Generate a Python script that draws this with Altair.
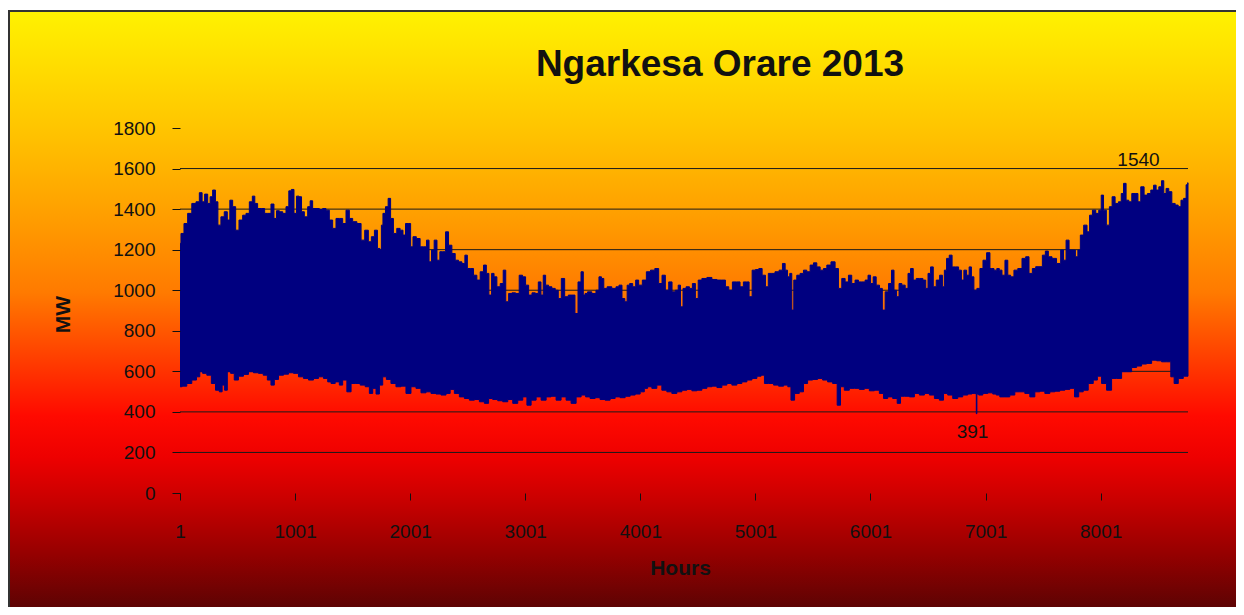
import altair as alt
import pandas as pd

# ---- data (hour of year, MW) ----
upper_hours = [1, 18, 53, 82, 125, 155, 183, 203, 227, 256, 270, 299, 319, 342, 371, 400, 424, 444, 473, 496,
               531, 560, 589, 618, 641, 661, 690, 725, 748, 777, 806, 829, 850, 879, 908, 936, 957, 980, 1003, 1023,
               1047, 1067, 1096, 1125, 1139, 1168, 1197, 1226, 1255, 1284, 1313, 1342, 1371, 1400, 1429, 1458, 1487,
               1516, 1560, 1589, 1623, 1652, 1676, 1705, 1728, 1748, 1754, 1775, 1798, 1821, 1841, 1870, 1899, 1928,
               1949, 1972, 1995, 2015, 2036, 2073, 2102, 2131, 2155, 2175, 2198, 2221, 2247, 2271, 2297, 2320, 2349,
               2378, 2407, 2436, 2465, 2488, 2508, 2537, 2566, 2595, 2624, 2653, 2673, 2697, 2720, 2740, 2769, 2798,
               2821, 2842, 2871, 2900, 2934, 2963, 2992, 3016, 3045, 3074, 3103, 3126, 3149, 3166, 3190, 3218, 3247,
               3276, 3300, 3329, 3358, 3392, 3421, 3445, 3474, 3497, 3514, 3528, 3557, 3601, 3630, 3653, 3673, 3694,
               3731, 3775, 3804, 3827, 3856, 3876, 3897, 3920, 3949, 3972, 4001, 4036, 4071, 4108, 4146, 4175, 4204,
               4233, 4262, 4291, 4320, 4340, 4360, 4384, 4413, 4442, 4465, 4494, 4514, 4558, 4601, 4645, 4688, 4726,
               4755, 4784, 4818, 4853, 4882, 4911, 4934, 4958, 4987, 5016, 5045, 5074, 5103, 5123, 5152, 5190, 5224,
               5248, 5271, 5288, 5311, 5323, 5346, 5375, 5404, 5433, 5462, 5491, 5520, 5549, 5578, 5607, 5636, 5679,
               5708, 5737, 5766, 5795, 5824, 5852, 5882, 5911, 5940, 5969, 5990, 6013, 6036, 6065, 6094, 6114, 6143,
               6172, 6195, 6216, 6239, 6259, 6288, 6317, 6337, 6361, 6384, 6413, 6442, 6471, 6491, 6511, 6535, 6558,
               6587, 6616, 6636, 6650, 6674, 6697, 6723, 6752, 6781, 6801, 6824, 6848, 6868, 6888, 6911, 6940, 6964,
               6993, 7027, 7051, 7060, 7088, 7109, 7132, 7155, 7184, 7204, 7233, 7262, 7300, 7335, 7364, 7393, 7422,
               7451, 7480, 7509, 7532, 7561, 7596, 7639, 7668, 7689, 7712, 7741, 7770, 7793, 7813, 7836, 7871, 7894,
               7915, 7944, 7973, 7996, 8016, 8036, 8065, 8089, 8112, 8141, 8170, 8190, 8210, 8234, 8257, 8286, 8315,
               8335, 8364, 8393, 8422, 8451, 8471, 8495, 8518, 8541, 8558, 8581, 8605, 8634, 8663, 8686, 8712, 8732,
               8755, 8760]
upper_mw = [1231, 1280, 1329, 1379, 1428, 1436, 1481, 1436, 1474, 1428, 1461, 1494, 1436, 1321, 1362, 1387, 1346, 1444,
            1412, 1296, 1346, 1370, 1379, 1436, 1464, 1428, 1403, 1403, 1379, 1379, 1425, 1354, 1392, 1387, 1379, 1412,
            1490, 1497, 1379, 1464, 1461, 1387, 1362, 1412, 1441, 1403, 1403, 1398, 1403, 1395, 1346, 1305, 1354, 1354,
            1329, 1395, 1354, 1338, 1329, 1247, 1296, 1239, 1264, 1296, 1206, 1198, 1321, 1379, 1412, 1453, 1354, 1280,
            1305, 1296, 1272, 1329, 1329, 1214, 1264, 1255, 1214, 1214, 1247, 1140, 1198, 1247, 1148, 1190, 1190, 1288,
            1222, 1181, 1148, 1140, 1132, 1173, 1107, 1107, 1074, 1050, 1091, 1124, 1083, 976, 1083, 1066, 1017, 1033,
            1099, 943, 984, 987, 984, 1074, 1066, 1025, 976, 987, 984, 1041, 976, 1074, 1025, 1017, 1009, 1000, 959,
            1058, 968, 976, 976, 885, 1041, 1091, 976, 984, 992, 984, 1000, 1066, 1058, 1009, 1017, 1009, 1017, 1025,
            959, 943, 1025, 1033, 1017, 1050, 1025, 1050, 1091, 1099, 1107, 1033, 1074, 1000, 1041, 992, 1000, 1025,
            918, 1009, 1017, 1009, 1033, 959, 1050, 1058, 1063, 1053, 1050, 1050, 1017, 1000, 1041, 1041, 1017, 1041,
            1041, 968, 1099, 1102, 1107, 1074, 1017, 1083, 1083, 1091, 1099, 1132, 1099, 1066, 1083, 902, 1050, 1074,
            1083, 1099, 1091, 1124, 1135, 1115, 1099, 1107, 1124, 1140, 1107, 1009, 1058, 1041, 1074, 1033, 1050, 1041,
            1041, 1050, 1074, 1033, 1066, 1025, 1009, 902, 992, 1033, 1099, 1000, 968, 1033, 1025, 1009, 1083, 1107,
            1050, 1058, 1058, 1050, 1009, 1083, 1115, 1017, 1050, 1074, 1017, 1099, 1157, 1173, 1115, 1115, 1099, 1050,
            1099, 1074, 1115, 1066, 1000, 1009, 1107, 1148, 1185, 1107, 1107, 1099, 1107, 1099, 1074, 1148, 1074, 1066,
            1099, 1107, 1157, 1165, 1083, 1107, 1116, 1116, 1173, 1193, 1165, 1157, 1132, 1198, 1148, 1247, 1198, 1198,
            1165, 1198, 1272, 1321, 1288, 1370, 1395, 1379, 1395, 1469, 1395, 1321, 1412, 1461, 1428, 1436, 1477, 1527,
            1444, 1436, 1477, 1477, 1436, 1510, 1469, 1477, 1494, 1518, 1494, 1510, 1540, 1477, 1502, 1486, 1428, 1420,
            1412, 1444, 1453, 1520, 1530]

lower_hours = [1, 38, 82, 125, 163, 183, 212, 256, 291, 328, 357, 377, 400, 424, 458, 487, 531, 574, 618, 661, 705,
               743, 777, 806, 835, 879, 922, 966, 1009, 1052, 1096, 1139, 1183, 1226, 1270, 1299, 1328, 1371, 1400,
               1429, 1473, 1502, 1545, 1589, 1632, 1661, 1690, 1719, 1748, 1777, 1812, 1856, 1899, 1943, 1986, 2030,
               2073, 2117, 2160, 2204, 2247, 2291, 2334, 2363, 2407, 2450, 2494, 2537, 2581, 2624, 2668, 2697, 2740,
               2784, 2827, 2871, 2914, 2958, 3001, 3030, 3074, 3117, 3161, 3204, 3247, 3291, 3334, 3378, 3421, 3465,
               3508, 3543, 3586, 3630, 3673, 3717, 3760, 3804, 3847, 3891, 3934, 3978, 4021, 4050, 4079, 4123, 4166,
               4210, 4253, 4297, 4340, 4384, 4427, 4471, 4514, 4558, 4601, 4645, 4688, 4731, 4775, 4818, 4862, 4905,
               4949, 4992, 5036, 5065, 5094, 5137, 5181, 5224, 5268, 5297, 5323, 5360, 5404, 5433, 5476, 5520, 5563,
               5607, 5650, 5694, 5729, 5752, 5795, 5839, 5882, 5926, 5969, 6013, 6056, 6100, 6129, 6172, 6216, 6250,
               6274, 6317, 6361, 6404, 6448, 6491, 6535, 6578, 6621, 6650, 6694, 6737, 6781, 6824, 6868, 6897, 6918,
               6923, 6928, 6955, 6999, 7042, 7085, 7103, 7146, 7190, 7233, 7277, 7320, 7364, 7407, 7451, 7494, 7538,
               7581, 7625, 7668, 7712, 7755, 7793, 7828, 7871, 7915, 7958, 7987, 8031, 8074, 8118, 8161, 8205, 8248,
               8292, 8335, 8378, 8422, 8466, 8509, 8552, 8596, 8625, 8654, 8697, 8741, 8760]
lower_mw = [524, 527, 540, 557, 573, 598, 590, 581, 540, 507, 499, 532, 507, 598, 590, 557, 576, 585, 598, 593, 590,
            581, 557, 532, 560, 581, 586, 593, 590, 573, 565, 557, 565, 573, 565, 548, 540, 548, 532, 557, 499, 540,
            540, 532, 524, 491, 516, 488, 532, 573, 560, 540, 524, 527, 491, 524, 516, 494, 499, 491, 488, 483, 491,
            511, 491, 474, 466, 458, 461, 450, 442, 466, 461, 455, 450, 461, 442, 458, 474, 433, 458, 474, 458, 474,
            477, 458, 474, 458, 442, 474, 483, 474, 466, 470, 461, 458, 466, 474, 470, 477, 483, 488, 499, 516, 524,
            516, 532, 507, 499, 491, 499, 507, 511, 504, 507, 516, 524, 527, 520, 532, 540, 532, 540, 548, 557, 565,
            576, 581, 540, 540, 532, 527, 532, 524, 458, 491, 499, 540, 557, 560, 565, 557, 548, 540, 433, 524, 507,
            516, 516, 511, 516, 504, 507, 491, 466, 474, 466, 442, 477, 477, 474, 491, 483, 491, 483, 466, 458, 491,
            483, 466, 474, 483, 488, 491, 490, 391, 488, 483, 491, 494, 488, 483, 474, 474, 483, 499, 499, 491, 474,
            499, 502, 491, 499, 502, 507, 511, 516, 474, 499, 507, 540, 557, 576, 540, 507, 565, 565, 598, 598, 619,
            626, 636, 639, 655, 652, 647, 647, 573, 540, 565, 576, 576]

x_ticks = [1, 1001, 2001, 3001, 4001, 5001, 6001, 7001, 8001]
y_ticks = [0, 200, 400, 600, 800, 1000, 1200, 1400, 1600, 1800]
grid_values = [200, 400, 600, 800, 1000, 1200, 1400, 1600]

ann_hours = [8330, 6888]
ann_mw = [1613, 271]
ann_labels = ["1540", "391"]

chart_title = ["Ngarkesa Orare 2013"]

# ---- tables built from the lists ----
band = pd.DataFrame({
    "hour": upper_hours + lower_hours[::-1],
    "mw": upper_mw + lower_mw[::-1],
})
band["i"] = range(len(band))
grid_df = pd.DataFrame({"mw": grid_values})
ann_df = pd.DataFrame({"hour": ann_hours, "mw": ann_mw, "label": ann_labels})
title_df = pd.DataFrame({"t": chart_title})

FONT = "Liberation Sans"
INK = "#111111"

xscale = alt.Scale(domain=[1, 8760], nice=False, zero=False)
yscale = alt.Scale(domain=[0, 1800], nice=False, zero=True)

xaxis = alt.Axis(values=x_ticks, format="d", title="Hours", grid=False, domain=False, ticks=True,
                 tickColor=INK, tickSize=7, tickWidth=1,
                 labelFont=FONT, labelFontSize=19, labelColor=INK, labelPadding=22,
                 labelFlush=False, labelOverlap=False,
                 titleFont=FONT, titleFontSize=21, titleFontWeight="bold", titleColor=INK,
                 titleX=500, titleY=81, titleBaseline="alphabetic", titleAlign="center", zindex=1)
yaxis = alt.Axis(values=y_ticks, format="d", title="MW", grid=False, domain=False, ticks=True,
                 tickColor=INK, tickSize=8, tickWidth=1,
                 labelFont=FONT, labelFontSize=19, labelColor=INK, labelPadding=17,
                 labelFlush=False, labelOverlap=False,
                 titleFont=FONT, titleFontSize=21, titleFontWeight="bold", titleColor=INK,
                 titleAngle=270, titleX=-111, titleY=186, titleBaseline="alphabetic", titleAlign="center",
                 zindex=1)

grad = alt.Gradient(
    gradient="linear", x1=0, x2=0, y1=0, y2=1,
    stops=[
        alt.GradientStop(color="#FFF200", offset=0.0),
        alt.GradientStop(color="#FFC400", offset=0.193),
        alt.GradientStop(color="#FFA000", offset=0.326),
        alt.GradientStop(color="#FF7A00", offset=0.457),
        alt.GradientStop(color="#FF3000", offset=0.589),
        alt.GradientStop(color="#FF0A00", offset=0.656),
        alt.GradientStop(color="#EE0000", offset=0.723),
        alt.GradientStop(color="#CC0000", offset=0.788),
        alt.GradientStop(color="#950000", offset=0.881),
        alt.GradientStop(color="#500404", offset=0.987),
        alt.GradientStop(color="#4A0303", offset=1.0),
    ],
)

bg = alt.Chart(pd.DataFrame({"k": [0]})).mark_rect(
    fill=grad, stroke="#333333", strokeWidth=2
).encode(x=alt.value(-171), x2=alt.value(1075), y=alt.value(-117), y2=alt.value(500))

grid = alt.Chart(grid_df).mark_rule(color="#1a1a1a", strokeWidth=1).encode(
    y=alt.Y("mw:Q", scale=yscale, axis=yaxis)
)

area = alt.Chart(band).mark_line(
    filled=True, fill="#000080", stroke="#000080", strokeWidth=1, interpolate="step"
).encode(
    x=alt.X("hour:Q", scale=xscale, axis=xaxis),
    y=alt.Y("mw:Q", scale=yscale, axis=yaxis),
    order=alt.Order("i:Q"),
)

ann = alt.Chart(ann_df).mark_text(
    font=FONT, fontSize=19, color=INK, baseline="alphabetic", align="center"
).encode(
    x=alt.X("hour:Q", scale=xscale, axis=xaxis),
    y=alt.Y("mw:Q", scale=yscale, axis=yaxis),
    text="label:N",
)

title = alt.Chart(title_df).mark_text(
    font=FONT, fontSize=37, fontWeight="bold", color=INK, baseline="alphabetic", align="center"
).encode(x=alt.value(540), y=alt.value(-52), text="t:N")

chart = alt.layer(bg, grid, area, ann, title).properties(
    width=1008, height=365,
    padding={"left": 172, "top": 120, "right": 48, "bottom": 114},
    autosize=alt.AutoSizeParams(type="none"),
).configure_view(stroke="#808080", strokeWidth=2).configure(background="#FFFFFF")

chart.save("out.html", embed_options={"renderer": "svg", "actions": False})
